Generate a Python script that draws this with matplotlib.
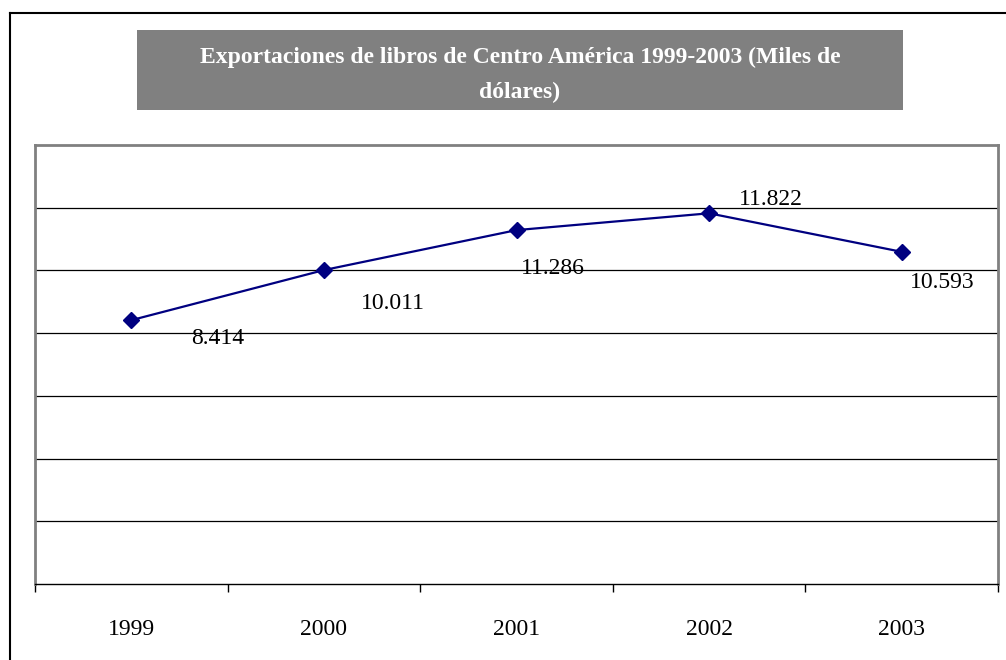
import matplotlib
matplotlib.use("Agg")
import matplotlib.pyplot as plt
from matplotlib.lines import Line2D
from matplotlib.patches import Rectangle

years = ["1999", "2000", "2001", "2002", "2003"]
values = [8.414, 10.011, 11.286, 11.822, 10.593]
labels = ["8.414", "10.011", "11.286", "11.822", "10.593"]
title = "Exportaciones de libros de Centro América 1999-2003 (Miles de\ndólares)"

W, H = 1006, 660
fig = plt.figure(figsize=(W / 100, H / 100), dpi=100)
plt.rcParams['font.family'] = ['Liberation Serif', 'DejaVu Serif']

# outer frame (top and left edges visible)
fig.add_artist(Line2D([10 / W, 1005 / W], [1 - 13 / H, 1 - 13 / H], color='black', lw=1.5))
fig.add_artist(Line2D([10 / W, 10 / W], [1 - 13 / H, 0], color='black', lw=1.5))

# title box
fig.add_artist(Rectangle((137 / W, 1 - 110 / H), (903 - 137) / W, 80 / H,
                         facecolor='#808080', edgecolor='none'))
fig.text(520 / W, 1 - 75 / H, title, ha='center', va='center', color='white',
         fontsize=17, fontweight='bold', linespacing=1.83)

ax = fig.add_axes([35 / W, 1 - 584 / H, (998 - 35) / W, (584 - 145) / H])
x = [i + 0.5 for i in range(len(years))]
ax.plot(x, values, color='#000080', lw=1.6, marker='D', markersize=8,
        markerfacecolor='#000080', markeredgecolor='#000080', zorder=3)

offsets = [(86, -18), (69, -33), (36, -38), (62, 14), (41, -31)]
for xi, v, lab, (dx, dy) in zip(x, values, labels, offsets):
    ax.annotate(lab, (xi, v), xytext=(dx * 0.72, dy * 0.72), textcoords='offset points',
                ha='center', va='center', fontsize=17, color='black')

ax.set_xlim(0, 5)
ax.set_ylim(0, 14)
ax.set_yticks([2, 4, 6, 8, 10, 12])
ax.yaxis.grid(True, color='black', lw=0.9)
ax.tick_params(axis='y', left=False, labelleft=False)
ax.set_xticks(range(6))
ax.set_xticklabels([])
ax.tick_params(axis='x', which='major', direction='out', length=6, width=1, color='black')
ax.set_xticks(x, minor=True)
ax.set_xticklabels(years, minor=True, fontsize=17)
ax.tick_params(axis='x', which='minor', length=0, pad=25)
for s in ['left', 'top', 'right']:
    ax.spines[s].set_color('#808080')
    ax.spines[s].set_linewidth(2)
ax.spines['bottom'].set_color('black')
ax.spines['bottom'].set_linewidth(1)
ax.set_axisbelow(True)

fig.savefig('out.png', dpi=100)
